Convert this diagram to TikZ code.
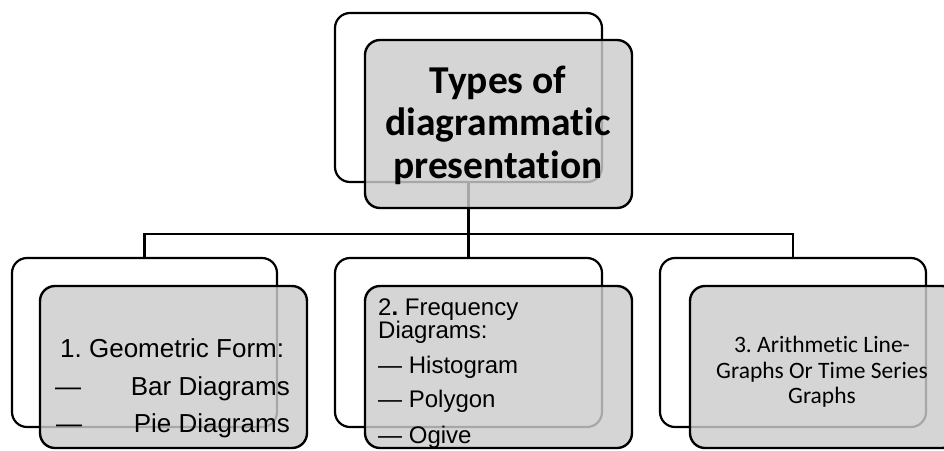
\documentclass[tikz,border=0pt]{standalone}
\usepackage{fontspec}
\setmainfont{Liberation Sans}
\newfontfamily\calibri[Ligatures=NoCommon]{Carlito}
\frenchspacing
\begin{document}
\begin{tikzpicture}[x=1pt,y=-1pt,
  backbox/.style={draw=black, line width=2.2pt, rounded corners=15pt,
    rectangle, inner sep=0pt, outer sep=0pt, minimum height=169pt},
  frontbox/.style={draw=black, line width=2.4pt, rounded corners=15pt,
    rectangle, inner sep=0pt, outer sep=0pt, fill=black!20, fill opacity=0.82,
    minimum width=267pt},
  conn/.style={draw=black, line width=2.4pt},
  titletext/.style={font=\calibri\bfseries\fontsize{39.5}{43}\selectfont, anchor=base, inner sep=0pt},
  armtext/.style={font=\fontsize{26}{30}\selectfont, inner sep=0pt},
  midtext/.style={font=\fontsize{24}{27}\selectfont, anchor=base west, inner sep=0pt},
  rtext/.style={font=\calibri\fontsize{23.5}{26}\selectfont, anchor=base, inner sep=0pt}]
\useasboundingbox (0,0) rectangle (944,450);

% back (outline) boxes
\node[backbox, minimum width=267pt] (topback) at (468.5,97.5) {};
\node[backbox, minimum width=265pt] (leftback) at (144.5,342.5) {};
\node[backbox, minimum width=267pt] (midback) at (468.5,342.5) {};
\node[backbox, minimum width=266pt] (rightback) at (793,342.5) {};

% tree connectors
\coordinate (bus) at (468.5,234);
\draw[conn] (topback.south) -- (bus);
\draw[conn] (leftback.north) |- (bus) -| (rightback.north);
\draw[conn] (bus) -- (midback.north);

% front (shaded) boxes
\node[frontbox, minimum height=168pt] (topfront) at (498.5,124) {};
\node[frontbox, minimum height=162pt] (leftfront) at (173.5,367) {};
\node[frontbox, minimum height=162pt] (midfront) at (498.5,367) {};
\node[frontbox, minimum height=162pt] (rightfront) at (823.5,367) {};

% title
\node[titletext] (title1) at (498,93) {Types of};
\node[titletext] (title2) at (498,135.5) {diagrammatic};
\node[titletext] (title3) at (498,178) {presentation};

% 1. geometric form
\node[armtext, anchor=base west] (geo) at (60,357) {1. Geometric Form:};
\node[armtext, anchor=base west] (geodash1) at (55,395) {—};
\node[armtext, anchor=base east] (geobar) at (290,395) {Bar Diagrams};
\node[armtext, anchor=base west] (geodash2) at (56,432) {—};
\node[armtext, anchor=base east] (geopie) at (290,432) {Pie Diagrams};

% 2. frequency diagrams
\node[midtext] (freq1) at (378,315) {2\textbf{.} Frequency};
\node[midtext] (freq2) at (378,338) {Diagrams:};
\node[midtext] (freqhist) at (378,373) {— Histogram};
\node[midtext] (freqpoly) at (378,407) {— Polygon};
\node[midtext] (freqogive) at (378,443) {— Ogive};

% 3. arithmetic line graphs
\node[rtext] (arith1) at (822,352) {3. Arithmetic Line-};
\node[rtext] (arith2) at (822,378) {Graphs Or Time Series};
\node[rtext] (arith3) at (822,403) {Graphs};
\end{tikzpicture}
\end{document}
